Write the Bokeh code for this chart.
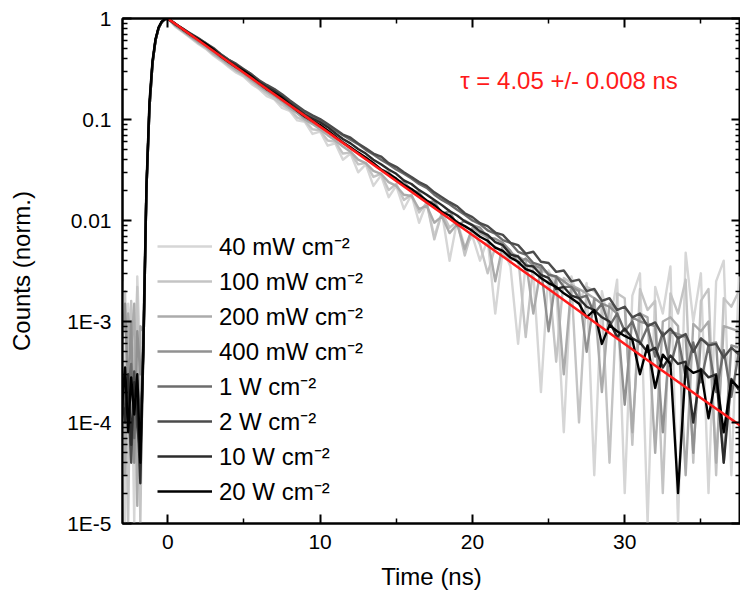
from bokeh.plotting import figure
from bokeh.models import (Range1d, FixedTicker, LinearAxis, LogAxis, Legend,
                          LegendItem, Label)
from bokeh.embed import file_html
from bokeh.resources import INLINE

# ---------------- data ----------------
time_ns = [-3.0, -2.8, -2.6, -2.4, -2.2, -2.0, -1.8,
           -1.6, -1.4, -1.2, -1.0, -0.8, -0.6, -0.4, -0.2,
           0.0,
           0.5, 1.0, 1.5, 2.0, 2.5, 3.0, 3.5, 4.0, 4.5, 5.0,
           5.5, 6.0, 6.5, 7.0, 7.5, 8.0, 8.5, 9.0, 9.5, 10.0,
           10.5, 11.0, 11.5, 12.0, 12.5, 13.0, 13.5, 14.0, 14.5, 15.0,
           15.5, 16.0, 16.5, 17.0, 17.5, 18.0, 18.5, 19.0, 19.5, 20.0,
           20.5, 21.0, 21.5, 22.0, 22.5, 23.0, 23.5, 24.0, 24.5, 25.0,
           25.5, 26.0, 26.5, 27.0, 27.5, 28.0, 28.5, 29.0, 29.5, 30.0,
           30.5, 31.0, 31.5, 32.0, 32.5, 33.0, 33.5, 34.0, 34.5, 35.0,
           35.5, 36.0, 36.5, 37.0, 37.5]

s_40mW = [2.5e-3, 1e-5, 1.5e-3, 8e-4, 1e-5, 2.8e-3, 4e-4,
          8e-4, 0.02, 0.13, 0.36, 0.61, 0.80, 0.92, 0.98,
          1.0,
          0.83, 0.73, 0.64, 0.56, 0.50, 0.43, 0.38, 0.33, 0.29, 0.265,
          0.225, 0.20, 0.17, 0.158, 0.13, 0.122, 0.098, 0.095, 0.072, 0.076,
          0.055, 0.058, 0.040, 0.046, 0.030, 0.036, 0.022, 0.028, 0.017, 0.022,
          0.013, 0.018, 0.0095, 0.015, 0.0070, 0.012, 0.0040, 0.010, 0.0055, 0.0070,
          0.0040, 0.0065, 0.0012, 0.0052, 0.0035, 0.0006, 0.0038, 0.0030, 0.0002, 0.0032,
          0.0022, 0.00008, 0.0028, 0.0015, 0.0024, 0.00003, 0.0020, 0.0009, 0.0026, 0.00002,
          0.0018, 0.0030, 0.00001, 0.0022, 0.0012, 0.0035, 0.00001, 0.0048, 0.0010, 0.0030,
          0.00002, 0.0025, 0.0040, 0.00003, 0.0028]

s_100mW = [5e-4, 2e-3, 1e-5, 1.6e-3, 2e-4, 2.2e-3, 1e-5,
           8e-4, 0.02, 0.13, 0.36, 0.61, 0.80, 0.92, 0.98,
           1.0,
           0.84, 0.74, 0.65, 0.57, 0.51, 0.44, 0.39, 0.34, 0.30, 0.27,
           0.235, 0.205, 0.182, 0.16, 0.14, 0.125, 0.105, 0.097, 0.080, 0.078,
           0.062, 0.060, 0.046, 0.047, 0.036, 0.037, 0.027, 0.029, 0.020, 0.023,
           0.016, 0.018, 0.012, 0.015, 0.0065, 0.012, 0.0085, 0.0098, 0.0045, 0.0082,
           0.0058, 0.0030, 0.0055, 0.0048, 0.0040, 0.0045, 0.0007, 0.0036, 0.0032, 0.0030,
           0.0004, 0.0027, 0.0024, 0.0001, 0.0022, 0.0020, 0.0016, 0.00004, 0.0019, 0.0017,
           0.00006, 0.0021, 0.0013, 0.0016, 0.00002, 0.0019, 0.0012, 0.0026, 0.00004, 0.0016,
           0.0021, 0.00003, 0.0017, 0.0014, 0.0020]

s_200mW = [1.8e-3, 3e-5, 1.2e-3, 5e-4, 1.5e-3, 1.5e-5, 9e-4,
           8e-4, 0.02, 0.13, 0.36, 0.61, 0.80, 0.92, 0.98,
           1.0,
           0.85, 0.75, 0.66, 0.58, 0.52, 0.45, 0.40, 0.35, 0.31, 0.28,
           0.245, 0.215, 0.19, 0.17, 0.15, 0.13, 0.115, 0.10, 0.090, 0.080,
           0.070, 0.062, 0.054, 0.048, 0.040, 0.037, 0.031, 0.029, 0.024, 0.022,
           0.018, 0.0175, 0.013, 0.014, 0.0095, 0.011, 0.0075, 0.0092, 0.0052, 0.0085,
           0.0075, 0.0068, 0.0025, 0.0058, 0.0048, 0.0044, 0.0040, 0.0012, 0.0034, 0.0030,
           0.0027, 0.0003, 0.0023, 0.0021, 0.0019, 0.0017, 0.0002, 0.0015, 0.0013, 0.0014,
           0.00008, 0.0012, 0.0011, 0.00005, 0.0010, 0.0011, 0.0009, 0.00003, 0.00095, 0.0008,
           0.0010, 0.00004, 0.0009, 0.00085, 0.0008]

s_400mW = [6e-4, 1.5e-3, 2e-4, 1.0e-3, 4e-5, 8e-4, 3e-4,
           6e-4, 0.02, 0.13, 0.36, 0.61, 0.80, 0.92, 0.98,
           1.0,
           0.86, 0.76, 0.67, 0.60, 0.54, 0.47, 0.41, 0.365, 0.325, 0.29,
           0.255, 0.222, 0.196, 0.176, 0.155, 0.136, 0.120, 0.104, 0.094, 0.085,
           0.077, 0.066, 0.060, 0.052, 0.047, 0.041, 0.037, 0.032, 0.030, 0.025,
           0.024, 0.020, 0.019, 0.015, 0.0155, 0.0115, 0.0125, 0.0088, 0.0100, 0.0090,
           0.0085, 0.0068, 0.0066, 0.0060, 0.0050, 0.0038, 0.0042, 0.0036, 0.0034, 0.0008,
           0.0028, 0.0025, 0.0022, 0.0020, 0.0005, 0.0017, 0.0015, 0.0014, 0.0012, 0.00015,
           0.0011, 0.0010, 0.00095, 0.0009, 0.00008, 0.0008, 0.00075, 0.0007, 0.00005, 0.00068,
           0.0006, 0.00062, 0.00004, 0.00058, 0.00055]

s_1W = [3.5e-4, 1.5e-4, 2.2e-4, 3.8e-4, 7e-5, 2.6e-4, 1.1e-4,
        5e-4, 0.02, 0.13, 0.36, 0.61, 0.80, 0.92, 0.98,
        1.0,
        0.87, 0.78, 0.70, 0.63, 0.57, 0.50, 0.44, 0.39, 0.35, 0.31,
        0.28, 0.24, 0.215, 0.195, 0.175, 0.150, 0.134, 0.118, 0.108, 0.098,
        0.088, 0.078, 0.070, 0.063, 0.057, 0.050, 0.045, 0.040, 0.036, 0.032,
        0.029, 0.026, 0.023, 0.021, 0.018, 0.016, 0.0145, 0.0128, 0.0114, 0.0100,
        0.0092, 0.0080, 0.0074, 0.0064, 0.0060, 0.0049, 0.0046, 0.0038, 0.0036, 0.0029,
        0.0028, 0.0022, 0.0022, 0.0017, 0.0018, 0.0012, 0.0015, 0.00090, 0.0012, 0.00080,
        0.0010, 0.00060, 0.00088, 0.00045, 0.00078, 0.00036, 0.00070, 0.00028, 0.00062, 0.00025,
        0.00058, 0.00020, 0.00052, 0.00018, 0.00050]

s_2W = [1.2e-4, 2.8e-4, 1.8e-4, 4e-5, 3.2e-4, 9e-5, 5e-5,
        5e-4, 0.02, 0.13, 0.36, 0.61, 0.81, 0.92, 0.98,
        1.0,
        0.88, 0.79, 0.71, 0.64, 0.57, 0.51, 0.44, 0.39, 0.355, 0.315,
        0.28, 0.245, 0.22, 0.20, 0.178, 0.155, 0.137, 0.121, 0.110, 0.101,
        0.090, 0.080, 0.071, 0.066, 0.058, 0.052, 0.046, 0.043, 0.037, 0.034,
        0.030, 0.027, 0.024, 0.022, 0.019, 0.017, 0.0152, 0.0138, 0.0118, 0.0108,
        0.0094, 0.0088, 0.0076, 0.0072, 0.0060, 0.0057, 0.0047, 0.0049, 0.0039, 0.0038,
        0.0031, 0.0032, 0.0025, 0.0026, 0.0020, 0.0021, 0.0016, 0.0017, 0.0013, 0.0014,
        0.0011, 0.00120, 0.00090, 0.00098, 0.00072, 0.00085, 0.00068, 0.00075, 0.00050, 0.00068,
        0.00058, 0.00060, 0.00044, 0.00055, 0.00047]

s_10W = [2.0e-4, 1.0e-4, 3.0e-4, 6e-5, 2.5e-4, 1.5e-4, 2.5e-5,
         5e-4, 0.02, 0.14, 0.37, 0.62, 0.81, 0.92, 0.98,
         1.0,
         0.88, 0.79, 0.70, 0.63, 0.56, 0.50, 0.43, 0.38, 0.345, 0.305,
         0.27, 0.235, 0.21, 0.19, 0.168, 0.146, 0.128, 0.112, 0.102, 0.094,
         0.084, 0.073, 0.064, 0.058, 0.051, 0.046, 0.040, 0.036, 0.032, 0.029,
         0.025, 0.023, 0.020, 0.018, 0.016, 0.0142, 0.0124, 0.0112, 0.0098, 0.0090,
         0.0078, 0.0072, 0.0061, 0.0057, 0.0046, 0.0044, 0.0036, 0.0035, 0.0029, 0.0027,
         0.0021, 0.0022, 0.0018, 0.0017, 0.0014, 0.0013, 0.0011, 0.0010, 0.00070, 0.00085,
         0.00068, 0.00062, 0.00050, 0.00055, 0.00035, 0.00046, 0.00038, 0.00040, 0.00010, 0.00034,
         0.00028, 0.00030, 0.00004, 0.00027, 0.00021]

s_20W = [1.5e-4, 3.5e-4, 8e-5, 2.8e-4, 1.2e-4, 3.0e-4, 4e-5,
         6e-4, 0.022, 0.15, 0.38, 0.63, 0.82, 0.93, 0.985,
         1.0,
         0.89, 0.78, 0.69, 0.62, 0.56, 0.49, 0.42, 0.37, 0.33, 0.30,
         0.265, 0.228, 0.200, 0.182, 0.163, 0.141, 0.122, 0.107, 0.097, 0.088,
         0.078, 0.068, 0.059, 0.053, 0.047, 0.042, 0.037, 0.032, 0.029, 0.026,
         0.0225, 0.0205, 0.018, 0.0158, 0.0142, 0.0122, 0.0112, 0.0096, 0.0088, 0.0079,
         0.0069, 0.0063, 0.0054, 0.0050, 0.0043, 0.0039, 0.0033, 0.0031, 0.0027, 0.0024,
         0.0022, 0.0019, 0.0017, 0.0015, 0.0011, 0.0013, 0.00060, 0.00092, 0.00080, 0.00072,
         0.00066, 0.00030, 0.00058, 0.00022, 0.00047, 0.00038, 0.00002, 0.00036, 0.00031, 0.00033,
         0.00011, 0.00029, 0.00008, 0.00026, 0.00022]

series_values = [s_40mW, s_100mW, s_200mW, s_400mW, s_1W, s_2W, s_10W, s_20W]
series_labels = ["40 mW cm\u207b\u00b2", "100 mW cm\u207b\u00b2", "200 mW cm\u207b\u00b2",
                 "400 mW cm\u207b\u00b2", "1 W cm\u207b\u00b2", "2 W cm\u207b\u00b2",
                 "10 W cm\u207b\u00b2", "20 W cm\u207b\u00b2"]
series_colors = ["#d6d6d6", "#c4c4c4", "#ababab", "#919191",
                 "#6c6c6c", "#4b4b4b", "#2c2c2c", "#000000"]

fit_time = [0.0, 5.0, 10.0, 15.0, 20.0, 25.0, 30.0, 35.0, 37.6]
fit_counts = [1.0, 0.29, 0.085, 0.0246, 0.0072, 0.0021, 0.0006, 0.000175, 0.000093]
fit_text = "\u03c4 = 4.05 +/- 0.008 ns"

x_major = [0, 10, 20, 30]
x_minor = [-5, 5, 15, 25, 35]
y_major = [1e-5, 1e-4, 1e-3, 1e-2, 1e-1, 1.0]
y_labels = ["1E-5", "1E-4", "1E-3", "0.01", "0.1", "1"]
y_minor = [m * d for d in [1e-5, 1e-4, 1e-3, 1e-2, 1e-1] for m in range(2, 10)]

FONT = "Liberation Sans"

# ---------------- figure ----------------
p = figure(width=740, height=595, x_range=Range1d(-2.97, 37.6),
           y_range=Range1d(1e-5, 1.0), y_axis_type="log",
           output_backend="svg", toolbar_location=None,
           min_border_left=122, min_border_right=0,
           min_border_top=18, min_border_bottom=72)
p.grid.visible = False
p.outline_line_color = "black"
p.outline_line_width = 2
p.background_fill_color = "white"
p.border_fill_color = "white"

renderers = []
for vals, col in zip(series_values, series_colors):
    r = p.line(time_ns, vals, line_color=col, line_width=2.4, line_join="round")
    renderers.append(r)

p.line(fit_time, fit_counts, line_color="#ff1a1a", line_width=2.5)

p.add_layout(Label(x=19.2, y=0.242, text=fit_text, text_color="#ff1a1a",
                   text_font=FONT, text_font_size="24px",
                   text_baseline="middle", text_align="left"))

def style_axis(ax):
    ax.axis_line_color = "black"
    ax.axis_line_width = 2
    ax.major_tick_in = 9
    ax.major_tick_out = 0
    ax.minor_tick_in = 5
    ax.minor_tick_out = 0
    ax.major_tick_line_width = 2
    ax.minor_tick_line_width = 1.5
    ax.major_tick_line_color = "black"
    ax.minor_tick_line_color = "black"
    ax.major_label_text_font = FONT
    ax.major_label_text_color = "black"
    ax.axis_label_text_font = FONT
    ax.axis_label_text_font_style = "normal"
    ax.axis_label_text_color = "black"

xb = p.xaxis[0]
xb.ticker = FixedTicker(ticks=x_major, minor_ticks=x_minor)
style_axis(xb)
xb.major_label_text_font_size = "21px"
xb.major_label_standoff = 11
xb.axis_label = "Time (ns)"
xb.axis_label_text_font_size = "24px"
xb.axis_label_standoff = 11

yl = p.yaxis[0]
yl.ticker = FixedTicker(ticks=y_major, minor_ticks=y_minor)
yl.major_label_overrides = {v: s for v, s in zip(y_major, y_labels)}
style_axis(yl)
yl.major_label_text_font_size = "21px"
yl.major_label_standoff = 11
yl.axis_label = "Counts (norm.)"
yl.axis_label_text_font_size = "24px"
yl.axis_label_standoff = 29

# mirrored axes (ticks only, no labels)
xt = LinearAxis(ticker=FixedTicker(ticks=x_major, minor_ticks=x_minor),
                major_label_overrides={v: "" for v in x_major},
                major_label_standoff=0)
style_axis(xt)
p.add_layout(xt, "above")

yr = LogAxis(ticker=FixedTicker(ticks=y_major, minor_ticks=y_minor),
             major_label_overrides={v: "" for v in y_major},
             major_label_standoff=0)
style_axis(yr)
p.add_layout(yr, "right")

items = [LegendItem(label=lab, renderers=[r]) for lab, r in zip(series_labels, renderers)]
legend = Legend(items=items, location=(35, 16), orientation="vertical",
                glyph_width=55, glyph_height=20, label_standoff=7, spacing=2,
                padding=0, margin=0, border_line_alpha=0, background_fill_alpha=0,
                label_text_font=FONT, label_text_font_size="24px",
                label_text_color="black", label_height=20)
p.add_layout(legend)

open("out.html", "w").write(file_html(p, INLINE))
